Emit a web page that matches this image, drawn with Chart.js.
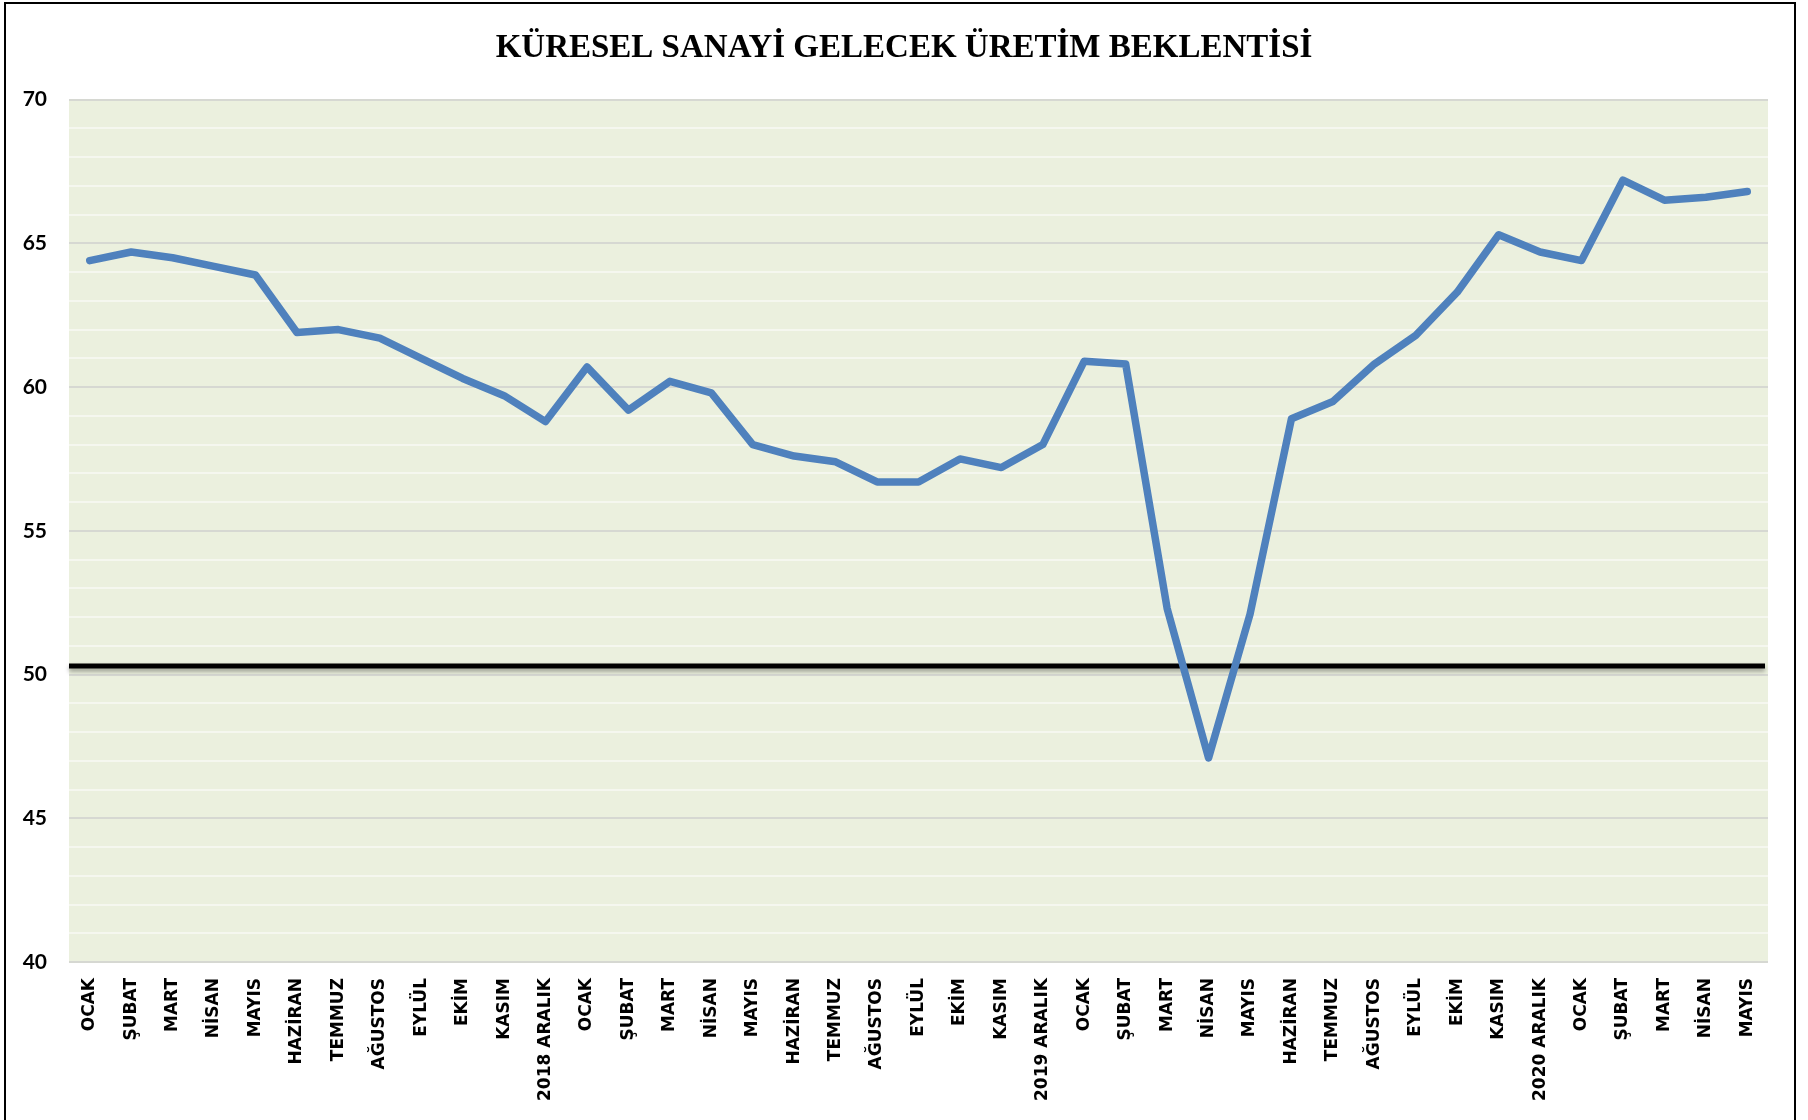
<!DOCTYPE html>
<html lang="tr">
<head>
<meta charset="utf-8">
<title>Küresel Sanayi Gelecek Üretim Beklentisi</title>
<script src="https://cdn.jsdelivr.net/npm/chart.js@4.4.1/dist/chart.umd.min.js"></script>
<style>
  html, body { margin: 0; padding: 0; background: #ffffff; }
  #wrap { position: relative; width: 1808px; height: 1120px; }
</style>
</head>
<body>
<div id="wrap"><canvas id="chart" width="1808" height="1120"></canvas></div>
<script>
/* ── Data ─────────────────────────────────────────────────────────────── */

var aylar = [
  'OCAK', 'ŞUBAT', 'MART', 'NİSAN', 'MAYIS', 'HAZİRAN', 'TEMMUZ', 'AĞUSTOS', 'EYLÜL', 'EKİM', 'KASIM', '2018 ARALIK',
  'OCAK', 'ŞUBAT', 'MART', 'NİSAN', 'MAYIS', 'HAZİRAN', 'TEMMUZ', 'AĞUSTOS', 'EYLÜL', 'EKİM', 'KASIM', '2019 ARALIK',
  'OCAK', 'ŞUBAT', 'MART', 'NİSAN', 'MAYIS', 'HAZİRAN', 'TEMMUZ', 'AĞUSTOS', 'EYLÜL', 'EKİM', 'KASIM', '2020 ARALIK',
  'OCAK', 'ŞUBAT', 'MART', 'NİSAN', 'MAYIS'
];

var beklenti = [
  64.4, 64.7, 64.5, 64.2, 63.9, 61.9, 62.0, 61.7, 61.0, 60.3, 59.7, 58.8,
  60.7, 59.2, 60.2, 59.8, 58.0, 57.6, 57.4, 56.7, 56.7, 57.5, 57.2, 58.0,
  60.9, 60.8, 52.3, 47.1, 52.1, 58.9, 59.5, 60.8, 61.8, 63.3, 65.3, 64.7,
  64.4, 67.2, 66.5, 66.6, 66.8
];

var esikDegeri = 50.3;          // black reference line (drawn just above 50)
var yMin = 40, yMax = 70;

/* ── Plugins ──────────────────────────────────────────────────────────── */

var plotBackground = {
  id: 'plotBackground',
  beforeDraw: function (chart) {
    var a = chart.chartArea, ctx = chart.ctx;
    ctx.save();
    ctx.fillStyle = '#ebf0de';
    ctx.fillRect(a.left, a.top, a.right - a.left, a.bottom - a.top);
    ctx.restore();
  },
  afterDraw: function (chart) {
    // outer frame
    var ctx = chart.ctx;
    ctx.save();
    ctx.strokeStyle = '#000000';
    ctx.lineWidth = 2;
    ctx.strokeRect(5, 3, 1790, 1140);
    ctx.restore();
  }
};

var thresholdLine = {
  id: 'thresholdLine',
  beforeDatasetsDraw: function (chart) {
    var a = chart.chartArea, ctx = chart.ctx;
    var y = chart.scales.y.getPixelForValue(esikDegeri);
    ctx.save();
    ctx.strokeStyle = '#000000';
    ctx.lineWidth = 5;
    ctx.shadowColor = 'rgba(0,0,0,0.35)';
    ctx.shadowBlur = 4;
    ctx.shadowOffsetY = 3;
    ctx.beginPath();
    ctx.moveTo(a.left, y);
    ctx.lineTo(a.right - 3, y);
    ctx.stroke();
    ctx.restore();
  }
};

/* ── Chart ────────────────────────────────────────────────────────────── */

new Chart(document.getElementById('chart'), {
  type: 'line',
  data: {
    labels: aylar,
    datasets: [{
      data:            beklenti,
      borderColor:     '#4f81bd',
      borderWidth:     7.5,
      borderJoinStyle: 'round',
      borderCapStyle:  'round',
      pointRadius:     0,
      tension:         0,
      fill:            false
    }]
  },
  plugins: [plotBackground, thresholdLine],
  options: {
    responsive: false,
    animation: false,
    devicePixelRatio: 1,
    layout: { padding: 0 },
    plugins: {
      legend:  { display: false },
      tooltip: { enabled: false },
      title: {
        display: true,
        text: 'KÜRESEL SANAYİ GELECEK ÜRETİM BEKLENTİSİ',
        color: '#000000',
        font: { family: "'Liberation Serif', 'DejaVu Serif', serif", size: 33, weight: 'bold' },
        padding: { top: 29, bottom: 31 }
      }
    },
    scales: {
      x: {
        offset: true,
        grid:   { display: false, drawTicks: false },
        border: { display: false },
        ticks: {
          autoSkip: false,
          minRotation: 90,
          maxRotation: 90,
          padding: 16,
          color: '#000000',
          font: { family: "'DejaVu Sans', Verdana, sans-serif", size: 17, weight: 'bold' }
        },
        afterFit: function (scale) { scale.height = 158; }
      },
      y: {
        min: yMin,
        max: yMax,
        border: { display: false },
        grid: {
          drawTicks: false,
          lineWidth: 2,
          color: function (ctx) {
            return ctx.tick && ctx.tick.value % 5 === 0 ? '#d6d8d2' : '#f5f7ef';
          }
        },
        ticks: {
          stepSize: 1,
          padding: 22,
          color: '#000000',
          font: { family: "Lato, 'Open Sans', sans-serif", size: 21, weight: 'bold' },
          callback: function (v) { return v % 5 === 0 ? v : ''; }
        },
        afterFit: function (scale) { scale.width = 69; }
      },
      // empty right-hand spacer so the title stays centred on the page
      yBosluk: {
        position: 'right',
        grid:   { display: false, drawTicks: false },
        border: { display: false },
        ticks:  { display: false },
        afterFit: function (scale) { scale.width = 40; }
      }
    }
  }
});
</script>
</body>
</html>
